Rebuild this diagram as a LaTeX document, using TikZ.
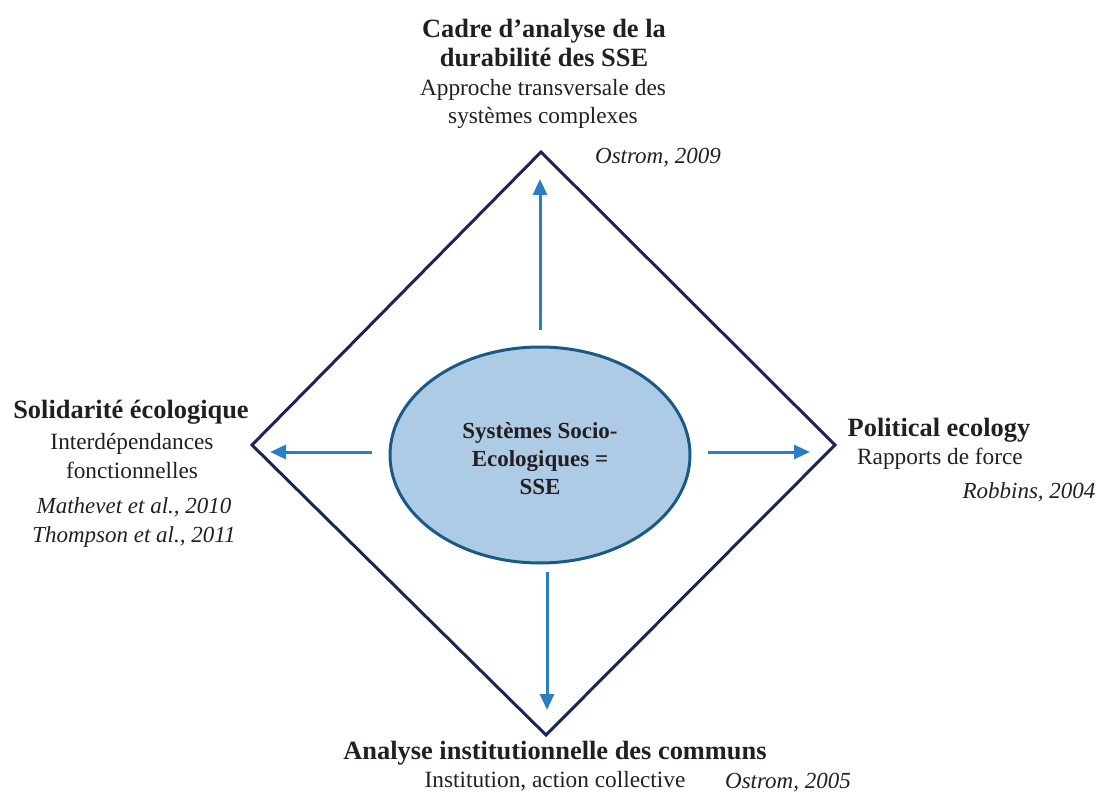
\documentclass[tikz,border=0pt]{standalone}
\usepackage{fontspec}
\setmainfont{Liberation Serif}
\usetikzlibrary{arrows.meta,shapes.geometric}
\definecolor{navy}{HTML}{1B2657}
\definecolor{arr}{HTML}{2B7EC1}
\definecolor{ellfill}{HTML}{AECBE5}
\definecolor{elldraw}{HTML}{1A5A86}
\definecolor{txt}{HTML}{231F20}
\tikzset{
  arrowline/.style={draw=arr, line width=3pt, -{Triangle[length=16pt,width=14pt]}},
  ttl/.style={font=\fontsize{26.4}{29}\selectfont\bfseries, text=txt, align=center, inner sep=0pt},
  sub/.style={font=\fontsize{23.3}{28.5}\selectfont, text=txt, align=center, inner sep=0pt},
  ref/.style={font=\fontsize{23}{29}\selectfont\itshape, text=txt, align=center, inner sep=0pt},
}
\begin{document}
\begin{tikzpicture}[x=1pt,y=-1pt]
\useasboundingbox (0,0) rectangle (1098,794);
% diamond
\coordinate (T) at (541,152);
\coordinate (R) at (835,445);
\coordinate (B) at (546,735);
\coordinate (L) at (252,445);
\draw[navy, line width=3pt, line join=miter] (T) -- (R) -- (B) -- (L) -- cycle;
% ellipse
\node[ellipse, draw=elldraw, fill=ellfill, line width=3pt, minimum width=300pt, minimum height=216pt, inner sep=0pt] (E) at (540,455) {};
\node[font=\fontsize{23}{28}\selectfont\bfseries, text=txt, align=center, inner sep=0pt] (Et) at (540,459) {Systèmes Socio-\\Ecologiques =\\SSE};
% arrow endpoints
\coordinate (a1s) at (540,330); \coordinate (a1e) at (540,179);
\coordinate (a2s) at (708,452); \coordinate (a2e) at (810,452);
\coordinate (a3s) at (372,452); \coordinate (a3e) at (270,452);
\coordinate (a4s) at (547,572); \coordinate (a4e) at (547,710);
\draw[arrowline] (a1s) -- (a1e);
\draw[arrowline] (a2s) -- (a2e);
\draw[arrowline] (a3s) -- (a3e);
\draw[arrowline] (a4s) -- (a4e);
% top
\node[ttl] (t1) at (544,43) {Cadre d’analyse de la\\durabilité des SSE};
\node[sub] (t2) at (543,104) {Approche transversale des\\systèmes complexes};
\node[ref] (t3) at (658,158) {Ostrom, 2009};
% left
\node[ttl] (l1) at (131,412) {Solidarité écologique};
\node[sub] (l2) at (132,456) {Interdépendances\\fonctionnelles};
\node[ref] (l3) at (134,522) {Mathevet et al., 2010\\Thompson et al., 2011};
% right
\node[ttl] (r1) at (939,430) {Political ecology};
\node[sub] (r2) at (940,459) {Rapports de force};
\node[ref] (r3) at (1029,492) {Robbins, 2004};
% bottom
\node[ttl] (b1) at (555,753) {Analyse institutionnelle des communs};
\node[sub] (b2) at (555,781) {Institution, action collective};
\node[ref] (b3) at (788,783) {Ostrom, 2005};
\end{tikzpicture}
\end{document}
